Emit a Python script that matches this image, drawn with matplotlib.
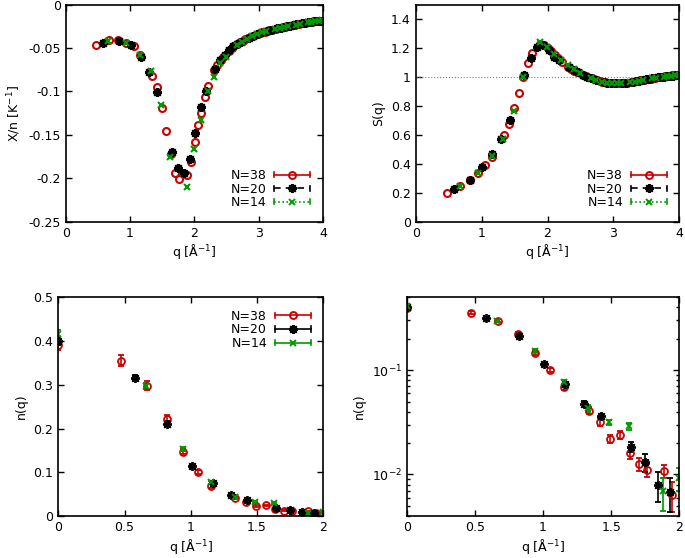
import numpy as np
import matplotlib.pyplot as plt
from matplotlib.lines import Line2D
from matplotlib.legend_handler import HandlerBase
from matplotlib.ticker import FuncFormatter, MultipleLocator

# colours of the three system sizes
c38, c20, c14 = '#cc0000', '#000000', '#009900'

# ---- top panels: q grid, X/n and S(q) ----
q38 = [0.472, 0.667, 0.818, 0.944, 1.055, 1.156, 1.335, 1.416, 1.493, 1.565, 1.635, 1.702,
       1.766, 1.888, 1.946, 2.003, 2.057, 2.111, 2.163, 2.214, 2.312, 2.360, 2.407, 2.453,
       2.542, 2.585, 2.670, 2.711, 2.752, 2.792, 2.832, 2.871, 2.909, 2.985, 3.022, 3.059,
       3.095, 3.131, 3.166, 3.201, 3.270, 3.304, 3.338, 3.371, 3.404, 3.436, 3.468, 3.532,
       3.564, 3.595, 3.626, 3.686, 3.716, 3.776, 3.805, 3.835, 3.863, 3.892, 3.921, 3.949]
x38 = [-0.0468, -0.0407, -0.0412, -0.0440, -0.0480, -0.0585, -0.0817, -0.0945, -0.119, -0.146,
       -0.172, -0.194, -0.201, -0.196, -0.181, -0.158, -0.139, -0.125, -0.106, -0.094, -0.0755,
       -0.070, -0.064, -0.060, -0.053, -0.050, -0.0455, -0.0435, -0.042, -0.040, -0.0385, -0.037,
       -0.036, -0.0335, -0.0325, -0.0317, -0.031, -0.030, -0.0295, -0.029, -0.028, -0.027,
       -0.0265, -0.026, -0.0255, -0.025, -0.0245, -0.0235, -0.023, -0.0225, -0.022, -0.0215,
       -0.021, -0.0203, -0.020, -0.0197, -0.0193, -0.019, -0.0187, -0.0183]
s38 = [0.20, 0.245, 0.291, 0.34, 0.39, 0.45, 0.601, 0.677, 0.785, 0.888, 1.0, 1.094,
       1.163, 1.23, 1.22, 1.20, 1.18, 1.152, 1.13, 1.106, 1.07, 1.055, 1.045, 1.035,
       1.015, 1.005, 0.99, 0.983, 0.977, 0.972, 0.968, 0.965, 0.962, 0.958, 0.957, 0.957,
       0.958, 0.958, 0.96, 0.962, 0.966, 0.968, 0.97, 0.973, 0.976, 0.979, 0.981, 0.986,
       0.989, 0.991, 0.994, 0.998, 1.0, 1.004, 1.006, 1.008, 1.009, 1.011, 1.012, 1.013]

q20 = [0.582, 0.823, 1.008, 1.164, 1.301, 1.426, 1.646, 1.746, 1.840, 1.930, 2.016, 2.098,
       2.178, 2.328, 2.400, 2.469, 2.537, 2.603, 2.667, 2.730, 2.851, 2.910, 2.968, 3.024,
       3.134, 3.188, 3.292, 3.343, 3.394, 3.443, 3.492, 3.540, 3.588, 3.681, 3.727, 3.772,
       3.816, 3.861, 3.904, 3.947]
x20 = [-0.0437, -0.0415, -0.0462, -0.0606, -0.077, -0.101, -0.170, -0.188, -0.194, -0.178,
       -0.148, -0.118, -0.100, -0.074, -0.064, -0.058, -0.052, -0.048, -0.0455, -0.043,
       -0.038, -0.036, -0.034, -0.0325, -0.030, -0.029, -0.027, -0.0265, -0.0255, -0.025,
       -0.024, -0.0235, -0.0225, -0.0215, -0.021, -0.0205, -0.0198, -0.0193, -0.0188, -0.0183]
s20 = [0.223, 0.291, 0.376, 0.468, 0.575, 0.70, 1.014, 1.13, 1.21, 1.22, 1.19, 1.14,
       1.12, 1.07, 1.05, 1.035, 1.015, 1.0, 0.99, 0.98, 0.967, 0.962, 0.959, 0.957,
       0.958, 0.962, 0.967, 0.97, 0.975, 0.978, 0.983, 0.986, 0.99, 0.997, 1.0, 1.003,
       1.006, 1.008, 1.01, 1.012]

q14 = [0.665, 0.940, 1.152, 1.330, 1.487, 1.629, 1.881, 1.995, 2.103, 2.206, 2.304, 2.398,
       2.488, 2.660, 2.742, 2.821, 2.899, 2.974, 3.047, 3.119, 3.258, 3.325, 3.391, 3.455,
       3.581, 3.642, 3.762, 3.820, 3.878, 3.934, 3.990]
x14 = [-0.042, -0.0445, -0.058, -0.076, -0.1155, -0.176, -0.2097, -0.166, -0.133, -0.099,
       -0.083, -0.067, -0.060, -0.047, -0.043, -0.0395, -0.0365, -0.034, -0.032, -0.0305,
       -0.028, -0.027, -0.026, -0.025, -0.023, -0.022, -0.0205, -0.0198, -0.019, -0.0185, -0.018]
s14 = [0.246, 0.337, 0.452, 0.571, 0.762, 0.998, 1.24, 1.21, 1.16, 1.12, 1.08, 1.055,
       1.03, 0.992, 0.978, 0.968, 0.962, 0.958, 0.957, 0.958, 0.964, 0.968, 0.974, 0.979,
       0.99, 0.995, 1.003, 1.007, 1.01, 1.012, 1.014]

# ---- bottom panels: momentum distribution n(q) with errors ----
nq38 = [0, 0.472, 0.667, 0.818, 0.944, 1.055, 1.156, 1.335, 1.416, 1.493, 1.565, 1.635,
        1.702, 1.766, 1.888, 1.946]
n38 = [0.391, 0.355, 0.298, 0.222, 0.147, 0.101, 0.069, 0.041, 0.032, 0.022, 0.024, 0.016,
       0.0125, 0.011, 0.0108, 0.0064]
e38 = [0.012, 0.012, 0.010, 0.010, 0.006, 0.005, 0.004, 0.003, 0.003, 0.002, 0.002, 0.002,
       0.0018, 0.0015, 0.0015, 0.002]
nq20 = [0, 0.582, 0.823, 1.008, 1.164, 1.301, 1.426, 1.646, 1.746, 1.840, 1.930]
n20 = [0.400, 0.316, 0.211, 0.1135, 0.0743, 0.0476, 0.0361, 0.0185, 0.0131, 0.0080, 0.0068]
e20 = [0.008, 0.006, 0.006, 0.004, 0.003, 0.003, 0.002, 0.002, 0.0025, 0.0026, 0.0024]
nq14 = [0, 0.665, 0.940, 1.152, 1.330, 1.487, 1.629, 1.881, 1.995]
n14 = [0.417, 0.297, 0.153, 0.077, 0.043, 0.0316, 0.0289, 0.0069, 0.0093]
e14 = [0.008, 0.006, 0.005, 0.003, 0.003, 0.002, 0.002, 0.0024, 0.0023]

labels = ['N=38', 'N=20', 'N=14']
colors = [c38, c20, c14]
markers = ['o', (8, 2, 0), 'x']
mfcs = ['none', c20, c14]
msizes = [5, 6.5, 5]

plt.rcParams['font.family'] = 'DejaVu Sans'
plt.rcParams['font.size'] = 9


class Key:
    def __init__(self, color, ls, marker, mfc, ms):
        self.color, self.ls, self.marker, self.mfc, self.ms = color, ls, marker, mfc, ms


class KeyHandler(HandlerBase):
    # gnuplot style key: line with end bars and the point in the middle
    def create_artists(self, legend, h, xdescent, ydescent, width, height, fontsize, trans):
        y = height / 2 - ydescent
        x0, x1 = -xdescent, width - xdescent
        c = 0.3 * height
        arts = [Line2D([x0, x1], [y, y], color=h.color, ls=h.ls, lw=1.2),
                Line2D([x0, x0], [y - c, y + c], color=h.color, lw=1.2),
                Line2D([x1, x1], [y - c, y + c], color=h.color, lw=1.2),
                Line2D([(x0 + x1) / 2], [y], color=h.color, marker=h.marker, ms=h.ms,
                       mfc=h.mfc, mew=1.4, ls='none')]
        for a in arts:
            a.set_transform(trans)
        return arts


def style(ax):
    ax.tick_params(which='both', direction='in', top=True, right=True, labelsize=9)
    ax.tick_params(which='major', length=4.5, width=1)
    ax.tick_params(which='minor', length=2.5, width=1)
    for s in ax.spines.values():
        s.set_linewidth(1.2)
    ax.xaxis.set_major_formatter(FuncFormatter(lambda v, p: '%g' % v))
    ax.set_xlabel('q [Å$^{-1}$]', labelpad=2)


def add_key(ax, styles, loc):
    keys = [Key(c, ls, m, f, s) for c, ls, m, f, s in zip(colors, styles, markers, mfcs, msizes)]
    ax.legend(keys, labels, handler_map={Key: KeyHandler()}, loc=loc, frameon=False,
              markerfirst=False, handlelength=2.9, handletextpad=0.6, labelspacing=0.05,
              fontsize=9, borderaxespad=0.6)


fig = plt.figure(figsize=(6.85, 5.58), dpi=100)
ax1 = fig.add_axes([0.0959, 0.6027, 0.3756, 0.3889])
ax2 = fig.add_axes([0.6069, 0.6027, 0.3848, 0.3889])
ax3 = fig.add_axes([0.0851, 0.0753, 0.3869, 0.3919])
ax4 = fig.add_axes([0.5937, 0.0753, 0.3980, 0.3919])

# X/n
for q, v, c, m, f, s in zip([q38, q20, q14], [x38, x20, x14], colors, markers, mfcs, msizes):
    ax1.plot(q, v, ls='none', marker=m, color=c, mfc=f, ms=s, mew=1.5)
ax1.set_xlim(0, 4)
ax1.set_ylim(-0.25, 0)
ax1.yaxis.set_major_locator(MultipleLocator(0.05))
ax1.yaxis.set_major_formatter(FuncFormatter(lambda v, p: '%g' % round(v, 3)))
ax1.set_ylabel('X/n [K$^{-1}$]', labelpad=4)
style(ax1)
add_key(ax1, ['-', (0, (4, 3)), (0, (1, 1.5))], 'lower right')

# S(q)
ax2.axhline(1, color='gray', ls=':', lw=0.8)
for q, v, c, m, f, s in zip([q38, q20, q14], [s38, s20, s14], colors, markers, mfcs, msizes):
    ax2.plot(q, v, ls='none', marker=m, color=c, mfc=f, ms=s, mew=1.5)
ax2.set_xlim(0, 4)
ax2.set_ylim(0, 1.5)
ax2.yaxis.set_major_locator(MultipleLocator(0.2))
ax2.yaxis.set_major_formatter(FuncFormatter(lambda v, p: '%g' % round(v, 2)))
ax2.set_ylabel('S(q)', labelpad=4)
style(ax2)
add_key(ax2, ['-', (0, (4, 3)), (0, (1, 1.5))], 'lower right')

# n(q), linear and log
for ax in (ax3, ax4):
    for q, v, e, c, m, f, s in zip([nq38, nq20, nq14], [n38, n20, n14], [e38, e20, e14],
                                   colors, markers, mfcs, msizes):
        ax.errorbar(q, v, yerr=e, ls='none', marker=m, color=c, mfc=f, ms=s, mew=1.3,
                    elinewidth=1.2, capsize=2, capthick=1.2)
    ax.set_xlim(0, 2)
    ax.xaxis.set_major_locator(MultipleLocator(0.5))
    ax.set_ylabel('n(q)', labelpad=4)
    style(ax)

ax3.set_ylim(0, 0.5)
ax3.yaxis.set_major_locator(MultipleLocator(0.1))
ax3.yaxis.set_major_formatter(FuncFormatter(lambda v, p: '%g' % round(v, 2)))
add_key(ax3, ['-', '-', '-'], 'upper right')

ax4.set_yscale('log')
ax4.set_ylim(0.004, 0.5)

fig.savefig('out.png', dpi=100)
